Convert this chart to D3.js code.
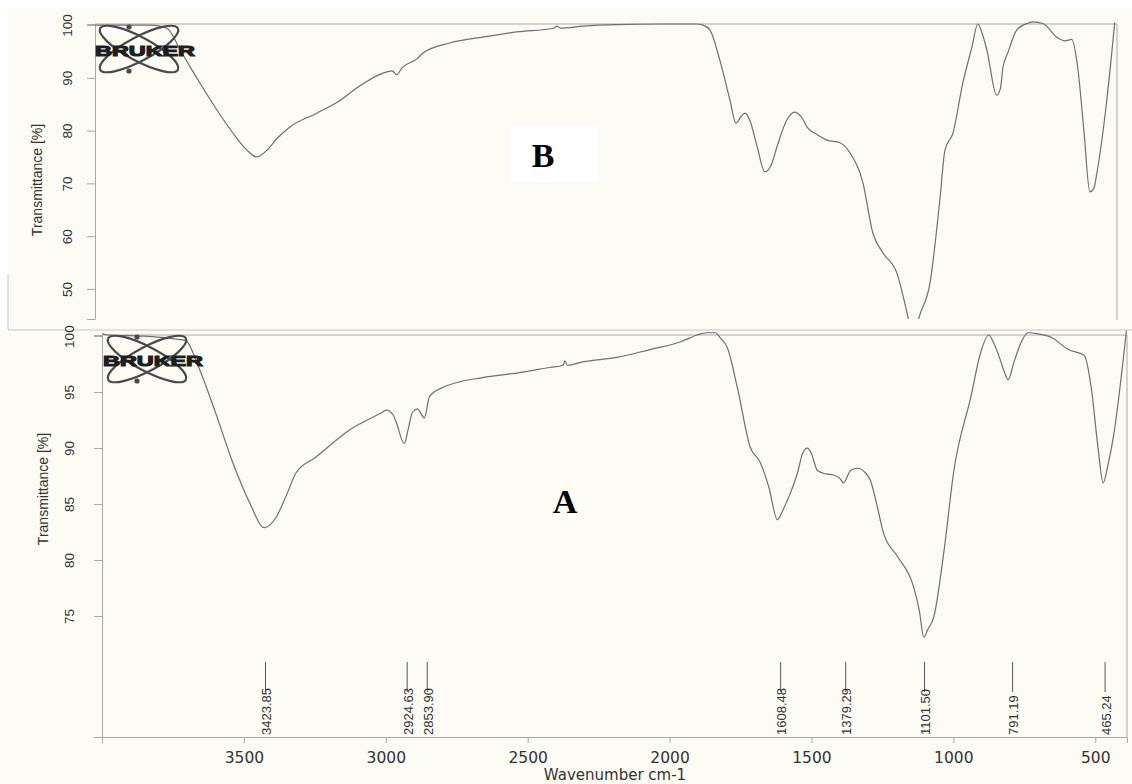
<!DOCTYPE html>
<html>
<head>
<meta charset="utf-8">
<script src="https://cdn.jsdelivr.net/npm/d3@7"></script>
<style>
  body { margin: 0; background: #fff; }
  svg { display: block; }
  .tick text { fill: #333; }
</style>
</head>
<body>
<div id="chart"></div>
<script>
// spectrum B (top) - wavenumber / transmittance
var bWave = [4000, 3900, 3800, 3746, 3693, 3629, 3569, 3512, 3463, 3428, 3392, 3357, 3311, 3216, 3140, 3074,
  2982, 2950, 2933, 2915, 2862, 2841, 2746, 2620, 2509, 2380, 2367, 2355, 2276, 2156, 2000, 1873,
  1852, 1827, 1792, 1756, 1735, 1715, 1703, 1686, 1660, 1633, 1610, 1590, 1555, 1527, 1500, 1484,
  1450, 1413, 1367, 1332, 1286, 1251, 1215, 1166, 1127, 1108, 1088, 1049, 1014, 996, 968, 933,
  900, 880, 865, 848, 813, 800, 791, 774, 742, 700, 686, 650, 601, 572, 548, 527, 505, 484, 470,
  459, 424, 396];
var bTrans = [100, 100, 100, 99.4, 94.7, 89.0, 83.9, 79.5, 76.3, 75.0, 76.3, 78.5, 80.7, 83.3, 85.5, 88.1,
  90.9, 91.3, 90.6, 91.9, 93.6, 94.7, 96.6, 97.8, 98.7, 99.4, 99.8, 99.4, 99.8, 100.1, 100.2, 100.2,
  100, 99.1, 93.4, 85.8, 81.4, 82.8, 83.3, 82.0, 77, 72.2, 73.5, 76.9, 82.0, 83.5, 82.3, 80.7,
  79.3, 78.2, 77.7, 75.8, 70.1, 60.6, 56.8, 53.0, 44.7, 40, 44.5, 51.1, 66.9, 76.3, 79.5, 89.0,
  96, 100.2, 98.5, 95.3, 86.7, 88, 92.0, 94.7, 99.1, 100.4, 100.6, 100.3, 97.7, 97.0, 97.3, 92.0, 80, 68.4, 69,
  72.0, 85.8, 100.5];

// spectrum A (bottom)
var aWave = [4000, 3977, 3850, 3760, 3705, 3659, 3599, 3542, 3472, 3440, 3429, 3410, 3387, 3350, 3316, 3246,
  3129, 3012, 2998, 2975, 2963, 2935, 2920, 2906, 2889, 2864, 2846, 2800, 2659, 2539, 2422, 2375,
  2369, 2360, 2306, 2186, 2069, 1960, 1903, 1870, 1839, 1820, 1797, 1761, 1716, 1680, 1650, 1620,
  1600, 1574, 1549, 1530, 1514, 1500, 1479, 1450, 1422, 1400, 1387, 1362, 1337, 1310, 1292, 1270,
  1246, 1196, 1140, 1120, 1104, 1090, 1069, 1034, 998, 938, 903, 875, 860, 843, 820, 807, 786, 760,
  737, 700, 655, 595, 539, 514, 490, 472, 455, 436, 390];
var aTrans = [100.2, 100.1, 100, 99.8, 99.6, 97.2, 93.1, 88.9, 84.7, 83.1, 82.9, 83.1, 83.8, 85.8, 87.8, 89.2,
  91.6, 93.2, 93.4, 93.0, 92.3, 90.4, 91.8, 93.2, 93.5, 92.7, 94.6, 95.4, 96.3, 96.7, 97.2, 97.4,
  97.8, 97.4, 97.7, 98.1, 98.8, 99.5, 100.1, 100.3, 100.3, 99.8, 99.0, 95.4, 90.1, 88.7, 86.5, 83.6,
  84.5, 86.0, 87.8, 89.6, 90.0, 89.5, 88.0, 87.7, 87.6, 87.3, 86.9, 88.0, 88.2, 87.8, 87.1, 85,
  82.4, 80.3, 77.6, 75.5, 73.1, 73.8, 74.9, 80.6, 88.0, 94.6, 98.6, 100.1, 99.5, 98.5, 96.8, 96.1, 97.7, 99.5,
  100.3, 100.2, 99.9, 98.8, 98.3, 95.4, 90, 86.9, 88.5, 91.0, 100.5];

var xTicks = [3500, 3000, 2500, 2000, 1500, 1000, 500];
var bYTicks = [50, 60, 70, 80, 90, 100];
var aYTicks = [75, 80, 85, 90, 95, 100];
var peakWave = [3423.85, 2924.63, 2853.90, 1608.48, 1379.29, 1101.50, 791.19, 465.24];
var peakText = ["3423.85", "2924.63", "2853.90", "1608.48", "1379.29", "1101.50", "791.19", "465.24"];

var W = 1132, H = 784;
var cream = "#fcfcf5", frame = "#a8a8a8", ink = "#6f6f6f";

var svg = d3.select("#chart").append("svg")
    .attr("width", W)
    .attr("height", H);

// backgrounds: bottom scan fills the page, top scan is offset a little
svg.append("rect").attr("width", W).attr("height", H).attr("fill", "#fff");
svg.append("rect").attr("x", 8).attr("y", 8).attr("width", W - 8).attr("height", 324).attr("fill", cream);
svg.append("rect").attr("x", 0).attr("y", 332).attr("width", W).attr("height", H - 332).attr("fill", cream);
svg.append("line").attr("x1", 8).attr("x2", W).attr("y1", 330).attr("y2", 330)
    .attr("stroke", "#d8d8d0").attr("stroke-width", 1.5);
svg.append("line").attr("x1", 8).attr("x2", 8).attr("y1", 274).attr("y2", 330)
    .attr("stroke", "#c8c8c0").attr("stroke-width", 1);

function drawLogo(cx, cy) {
    var g = svg.append("g").attr("transform", "translate(" + cx + "," + cy + ")");
    [28, -28].forEach(function (a) {
        g.append("ellipse")
            .attr("rx", 44).attr("ry", 12)
            .attr("transform", "rotate(" + a + ")")
            .attr("fill", "none")
            .attr("stroke", "#4a4a4a")
            .attr("stroke-width", 2.2);
    });
    g.append("circle").attr("cx", -10).attr("cy", -22).attr("r", 2.6).attr("fill", "#4a4a4a");
    g.append("circle").attr("cx", -10).attr("cy", 22).attr("r", 2.6).attr("fill", "#4a4a4a");
    g.append("text")
        .attr("x", -44).attr("y", 7)
        .attr("textLength", 100)
        .attr("lengthAdjust", "spacingAndGlyphs")
        .attr("font-family", "Liberation Sans, Arial, sans-serif")
        .attr("font-weight", "bold")
        .attr("font-size", 15)
        .attr("fill", "#1e1e1e")
        .attr("stroke", "#1e1e1e")
        .attr("stroke-width", 1.1)
        .text("BRUKER");
}

function drawPanel(p) {
    var x = d3.scaleLinear().domain([4000, 388]).range([p.left, p.right]);
    var y = d3.scaleLinear().domain(p.yDomain).range([p.bottom, p.top]);

    // frame: top and right edges
    svg.append("path")
        .attr("d", "M" + p.left + "," + p.top + "H" + p.right + "V" + p.frameBottom)
        .attr("fill", "none").attr("stroke", frame).attr("stroke-width", 1);

    var yAxis = svg.append("g")
        .attr("transform", "translate(" + p.left + ",0)")
        .call(d3.axisLeft(y).tickValues(p.yTicks).tickSize(8).tickFormat(d3.format("d")));
    yAxis.select(".domain").attr("stroke", frame);
    yAxis.selectAll(".tick line").attr("stroke", frame);
    yAxis.selectAll(".tick text")
        .attr("transform", "rotate(-90)")
        .attr("x", 0)
        .attr("y", p.labelOff)
        .attr("dy", "0.35em")
        .attr("text-anchor", "middle")
        .attr("font-family", "Liberation Sans, Arial, sans-serif")
        .attr("font-size", 13.5);

    svg.append("text")
        .attr("transform", "translate(" + p.titleX + "," + p.titleY + ") rotate(-90)")
        .attr("text-anchor", "middle")
        .attr("dy", "0.35em")
        .attr("font-family", "Liberation Sans, Arial, sans-serif")
        .attr("font-size", 14)
        .attr("fill", "#333")
        .text("Transmittance [%]");

    var clipId = "clip" + p.name;
    svg.append("clipPath").attr("id", clipId)
        .append("rect")
        .attr("x", p.left).attr("y", p.top - 6)
        .attr("width", p.right - p.left + 2).attr("height", p.bottom - p.top + 6);

    var pts = p.wave.map(function (w, i) { return [w, p.trans[i]]; });
    var line = d3.line()
        .x(function (d) { return x(d[0]); })
        .y(function (d) { return y(d[1]); })
        .curve(d3.curveMonotoneX);
    svg.append("path")
        .datum(pts)
        .attr("clip-path", "url(#" + clipId + ")")
        .attr("fill", "none")
        .attr("stroke", ink)
        .attr("stroke-width", 1.2)
        .attr("d", line);

    return x;
}

var xB = drawPanel({
    name: "B", wave: bWave, trans: bTrans,
    left: 95, right: 1117, top: 24, bottom: 319, frameBottom: 320,
    yDomain: [44.3, 100.2], yTicks: bYTicks, labelOff: -28,
    titleX: 37, titleY: 180
});

var xA = drawPanel({
    name: "A", wave: aWave, trans: aTrans,
    left: 102, right: 1127, top: 335, bottom: 737, frameBottom: 737,
    yDomain: [64.2, 100.1], yTicks: aYTicks, labelOff: -33,
    titleX: 43, titleY: 489
});

// x axis of the bottom spectrum
var xAxis = svg.append("g")
    .attr("transform", "translate(0,737)")
    .call(d3.axisBottom(xA).tickValues(xTicks).tickSize(6).tickPadding(9).tickFormat(d3.format("d")));
xAxis.select(".domain").attr("stroke", frame);
xAxis.selectAll(".tick line").attr("stroke", frame);
xAxis.selectAll(".tick text")
    .attr("font-family", "DejaVu Sans, Verdana, sans-serif")
    .attr("font-size", 15.5);

svg.append("text")
    .attr("x", 615).attr("y", 780)
    .attr("text-anchor", "middle")
    .attr("font-family", "DejaVu Sans, Verdana, sans-serif")
    .attr("font-size", 15)
    .attr("fill", "#333")
    .text("Wavenumber cm-1");

// peak picks
var peaks = svg.append("g").selectAll("g")
    .data(peakWave)
    .enter().append("g")
    .attr("transform", function (d) { return "translate(" + xA(d) + ",0)"; });
peaks.append("line")
    .attr("y1", 662).attr("y2", 692)
    .attr("stroke", "#555").attr("stroke-width", 1);
peaks.append("text")
    .attr("transform", "translate(1,735) rotate(-90)")
    .attr("dy", "0.35em")
    .attr("font-family", "Liberation Sans Narrow, Arial Narrow, sans-serif")
    .attr("font-size", 13)
    .attr("fill", "#333")
    .text(function (d, i) { return peakText[i]; });

drawLogo(139, 49);
drawLogo(147, 359);

// panel letters
svg.append("rect").attr("x", 510).attr("y", 125).attr("width", 88).attr("height", 57).attr("fill", "#fff");
svg.append("text")
    .attr("x", 543).attr("y", 167)
    .attr("text-anchor", "middle")
    .attr("font-family", "Liberation Serif, Times New Roman, serif")
    .attr("font-weight", "bold")
    .attr("font-size", 34)
    .text("B");
svg.append("text")
    .attr("x", 565).attr("y", 513)
    .attr("text-anchor", "middle")
    .attr("font-family", "Liberation Serif, Times New Roman, serif")
    .attr("font-weight", "bold")
    .attr("font-size", 34)
    .text("A");
</script>
</body>
</html>
